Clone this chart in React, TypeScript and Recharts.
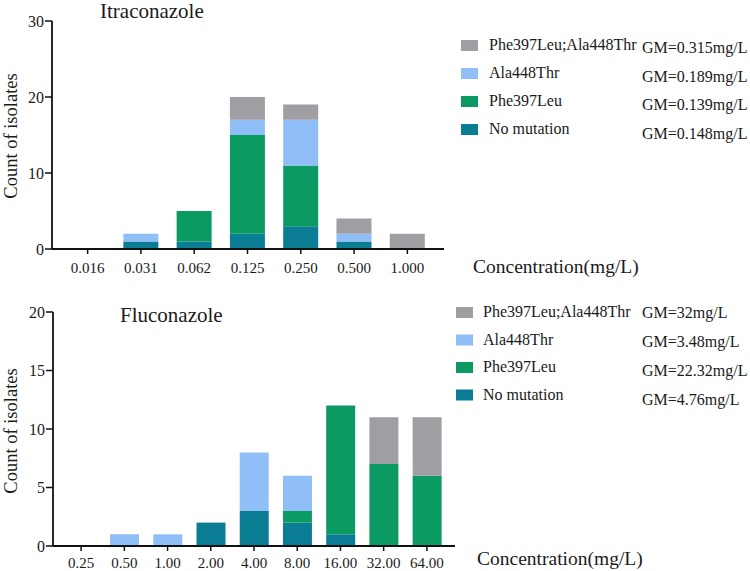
import React from 'react';
import { BarChart, Bar, XAxis, YAxis } from 'recharts';

// ---------- data ----------
const seriesKeys = ['noMutation', 'phe397Leu', 'ala448Thr', 'both'];
const seriesNames = ['No mutation', 'Phe397Leu', 'Ala448Thr', 'Phe397Leu;Ala448Thr'];
const seriesColors = ['#0a7d95', '#0b9a61', '#90bff8', '#9e9ea3'];

const itraCategories = ['0.016', '0.031', '0.062', '0.125', '0.250', '0.500', '1.000'];
const itraNoMutation = [0, 1, 1, 2, 3, 1, 0];
const itraPhe397Leu = [0, 0, 4, 13, 8, 0, 0];
const itraAla448Thr = [0, 1, 0, 2, 6, 1, 0];
const itraBoth = [0, 0, 0, 3, 2, 2, 2];
const itraTicks = [0, 10, 20, 30];
// GM per series, in seriesNames order
const itraGM = ['GM=0.148mg/L', 'GM=0.139mg/L', 'GM=0.189mg/L', 'GM=0.315mg/L'];

const fluCategories = ['0.25', '0.50', '1.00', '2.00', '4.00', '8.00', '16.00', '32.00', '64.00'];
const fluNoMutation = [0, 0, 0, 2, 3, 2, 1, 0, 0];
const fluPhe397Leu = [0, 0, 0, 0, 0, 1, 11, 7, 6];
const fluAla448Thr = [0, 1, 1, 0, 5, 3, 0, 0, 0];
const fluBoth = [0, 0, 0, 0, 0, 0, 0, 4, 5];
const fluTicks = [0, 5, 10, 15, 20];
const fluGM = ['GM=4.76mg/L', 'GM=22.32mg/L', 'GM=3.48mg/L', 'GM=32mg/L'];

const buildRows = (cats: string[], cols: number[][]) =>
  cats.map((c, i) => {
    const row: any = { conc: c };
    seriesKeys.forEach((k, j) => {
      row[k] = cols[j][i];
    });
    return row;
  });

const itraRows = buildRows(itraCategories, [itraNoMutation, itraPhe397Leu, itraAla448Thr, itraBoth]);
const fluRows = buildRows(fluCategories, [fluNoMutation, fluPhe397Leu, fluAla448Thr, fluBoth]);

// ---------- styles ----------
const FONT = '"Liberation Serif", "Times New Roman", serif';
const INK = '#1a1a1a';

type Layout = {
  plotTop: number;
  right: number;
  left: number;
  xAxisH: number;
  xPad: { left: number; right: number };
  xTickMargin: number;
  titleX: number;
  titleY: number;
  concX: number;
  concY: number;
  yLabelX: number;
  yLabelY: number;
  sqX: number;
  textX: number;
  gmX: number;
  row0: number;
  rowStep: number;
  gm0: number;
  gmStep: number;
};

function Panel(props: {
  top: number;
  height: number;
  rows: any[];
  yMax: number;
  yTicks: number[];
  title: string;
  gms: string[];
  L: Layout;
}) {
  const { top, height, rows, yMax, yTicks, title, gms, L } = props;
  const order = [3, 2, 1, 0];
  return (
    <div style={{ position: 'absolute', left: 0, top, width: 750, height }}>
      <BarChart
        width={750}
        height={height}
        data={rows}
        margin={{ top: L.plotTop, right: L.right, left: L.left, bottom: 0 }}
        barCategoryGap="17%"
      >
        <XAxis
          dataKey="conc"
          height={L.xAxisH}
          padding={L.xPad}
          interval={0}
          tickSize={5}
          tickMargin={L.xTickMargin}
          axisLine={{ stroke: '#111', strokeWidth: 1.8 }}
          tickLine={{ stroke: '#111', strokeWidth: 1.5 }}
          tick={{ fontSize: 15, fill: INK, fontFamily: FONT }}
        />
        <YAxis
          width={52}
          type="number"
          domain={[0, yMax]}
          ticks={yTicks}
          interval={0}
          tickSize={7}
          tickMargin={1}
          axisLine={{ stroke: '#111', strokeWidth: 1.8 }}
          tickLine={{ stroke: '#111', strokeWidth: 1.5 }}
          tick={{ fontSize: 16, fill: INK, fontFamily: FONT }}
        />
        {seriesKeys.map((k, i) => (
          <Bar
            key={k}
            dataKey={k}
            name={seriesNames[i]}
            stackId="s"
            fill={seriesColors[i]}
            isAnimationActive={false}
          />
        ))}
      </BarChart>
      <svg
        width={750}
        height={height}
        style={{ position: 'absolute', left: 0, top: 0, pointerEvents: 'none' }}
        fontFamily={FONT}
      >
        <text x={L.titleX} y={L.titleY} fontSize={21} fill={INK}>
          {title}
        </text>
        <text x={L.concX} y={L.concY} fontSize={19.5} fill={INK}>
          Concentration(mg/L)
        </text>
        <text
          x={L.yLabelX}
          y={L.yLabelY}
          fontSize={18.5}
          fill={INK}
          textAnchor="middle"
          transform={`rotate(-90, ${L.yLabelX}, ${L.yLabelY})`}
        >
          Count of isolates
        </text>
        {order.map((si, r) => {
          const cy = L.row0 + r * L.rowStep;
          return (
            <g key={si}>
              <rect x={L.sqX} y={cy - 5.5} width={17} height={11} fill={seriesColors[si]} />
              <text x={L.textX} y={cy + 4.5} fontSize={16} fill={INK}>
                {seriesNames[si]}
              </text>
              <text x={L.gmX} y={L.gm0 + r * L.gmStep} fontSize={16} fill={INK}>
                {gms[si]}
              </text>
            </g>
          );
        })}
      </svg>
    </div>
  );
}

const topLayout: Layout = {
  plotTop: 21,
  right: 306,
  left: 0,
  xAxisH: 36,
  xPad: { left: 9, right: 10 },
  xTickMargin: 8,
  titleX: 100,
  titleY: 18,
  concX: 473,
  concY: 273,
  yLabelX: 17,
  yLabelY: 136,
  sqX: 461,
  textX: 489,
  gmX: 642,
  row0: 45.5,
  rowStep: 28,
  gm0: 53,
  gmStep: 28.7,
};

const bottomLayout: Layout = {
  plotTop: 22,
  right: 295,
  left: 1,
  xAxisH: 25,
  xPad: { left: 6.5, right: 6.5 },
  xTickMargin: 6,
  titleX: 120,
  titleY: 32,
  concX: 477,
  concY: 275,
  yLabelX: 17,
  yLabelY: 141,
  sqX: 456,
  textX: 483,
  gmX: 642,
  row0: 22.5,
  rowStep: 27.5,
  gm0: 28,
  gmStep: 29,
};

export default function App() {
  return (
    <div style={{ position: 'absolute', left: 0, top: 0, width: 750, height: 571, background: '#fff' }}>
      <Panel top={0} height={285} rows={itraRows} yMax={30} yTicks={itraTicks} title="Itraconazole" gms={itraGM} L={topLayout} />
      <Panel top={290} height={281} rows={fluRows} yMax={20} yTicks={fluTicks} title="Fluconazole" gms={fluGM} L={bottomLayout} />
    </div>
  );
}
